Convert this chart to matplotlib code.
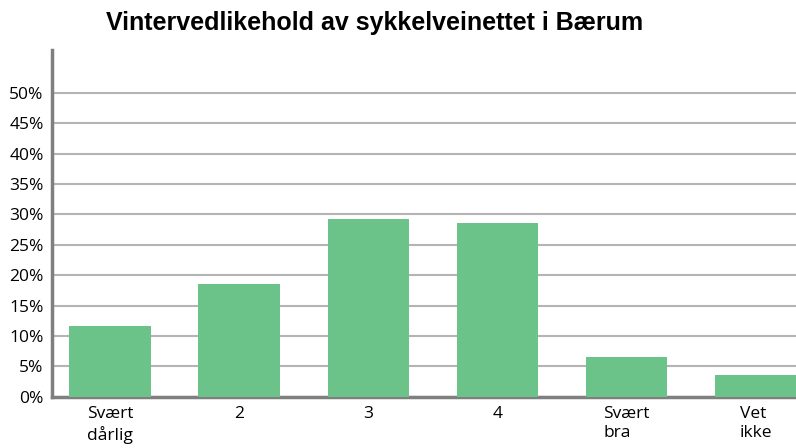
import matplotlib
matplotlib.use("Agg")
import matplotlib.pyplot as plt
import numpy as np

# Survey answers, share of respondents (%)
categories = ["Svært\ndårlig", "2", "3", "4", "Svært\nbra", "Vet\nikke"]
shares = [11.6, 18.6, 29.2, 28.6, 6.6, 3.5]
y_ticks = list(range(0, 51, 5))
y_tick_labels = [f"{t}%" for t in y_ticks]
title = "Vintervedlikehold av sykkelveinettet i Bærum"

bar_color = "#6cc38a"
grid_color = "#b4b4b4"
spine_color = "#7f7f7f"

fig = plt.figure(figsize=(7.96, 4.48), dpi=100)
ax = fig.add_axes([0.0653, 0.1145, 0.9347, 0.7735])

x = np.arange(len(categories))
ax.bar(x, shares, width=0.63, color=bar_color, zorder=3)

ax.set_ylim(0, 57)
ax.set_xlim(-0.449, 5.31)
ax.set_yticks(y_ticks)
ax.set_yticklabels(y_tick_labels, fontfamily="Open Sans", fontsize=12.5)
ax.set_xticks(x)
ax.set_xticklabels(categories, fontfamily="Open Sans", fontsize=12.5,
                   multialignment="left", linespacing=1.25)
ax.tick_params(axis="both", length=0)
ax.tick_params(axis="y", pad=6)
ax.tick_params(axis="x", pad=7)

ax.yaxis.grid(True, color=grid_color, linewidth=1.5, zorder=0)
for side in ("top", "right"):
    ax.spines[side].set_visible(False)
for side in ("left", "bottom"):
    ax.spines[side].set_color(spine_color)
    ax.spines[side].set_linewidth(2.5)

fig.text(0.471, 0.948, title, ha="center", va="center",
         fontfamily="Liberation Sans", fontweight="bold", fontsize=18)

fig.savefig("out.png", dpi=100)
